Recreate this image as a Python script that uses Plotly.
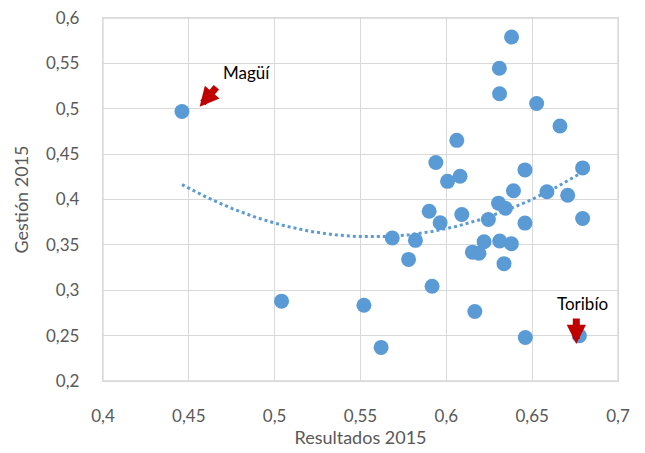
import numpy as np
import plotly.graph_objects as go

resultados = [0.446, 0.504, 0.552, 0.562, 0.5685, 0.578, 0.582, 0.590, 0.5917, 0.5939,
              0.5964, 0.6007, 0.6061, 0.608, 0.609, 0.6152, 0.6166, 0.619, 0.622, 0.6245,
              0.6304, 0.6309, 0.631, 0.6311, 0.6344, 0.6336, 0.638, 0.6379, 0.6391, 0.6458,
              0.6458, 0.646, 0.6526, 0.6586, 0.6662, 0.6707, 0.6775, 0.6794, 0.6794]
gestion = [0.497, 0.288, 0.2835, 0.237, 0.3575, 0.334, 0.355, 0.387, 0.3044, 0.4407,
           0.3744, 0.420, 0.4652, 0.4256, 0.3835, 0.342, 0.2766, 0.3407, 0.3535, 0.378,
           0.396, 0.5447, 0.5165, 0.3542, 0.3904, 0.3293, 0.579, 0.3513, 0.4096, 0.4326,
           0.374, 0.248, 0.5058, 0.4085, 0.481, 0.4047, 0.2498, 0.4348, 0.379]

x_ticks = [0.4, 0.45, 0.5, 0.55, 0.6, 0.65, 0.7]
y_ticks = [0.2, 0.25, 0.3, 0.35, 0.4, 0.45, 0.5, 0.55, 0.6]

labels = ["Magüí", "Toribío"]
label_points = [(0.4563, 0.5022), (0.6757, 0.2407)]
label_text_pos = [(0.4838, 0.5399), (0.6792, 0.2858)]

# polynomial (order 2) trendline fitted to the data
coef = np.polyfit(resultados, gestion, 2)
xt = np.linspace(min(resultados), max(resultados), 200)
yt = np.polyval(coef, xt)

FONT = "Lato"
fig = go.Figure()
fig.add_trace(go.Scatter(x=resultados, y=gestion, mode="markers",
                         marker=dict(size=15, color="#5B9BD5"),
                         hoverinfo="x+y", showlegend=False))
fig.add_trace(go.Scatter(x=xt, y=yt, mode="lines",
                         line=dict(color="#5B9BD5", width=3, dash="dot"),
                         hoverinfo="skip", showlegend=False))

# arrows
fig.add_annotation(x=label_points[0][0], y=label_points[0][1], ax=18, ay=-21,
                   showarrow=True, arrowhead=2, arrowsize=0.55, arrowwidth=7,
                   arrowcolor="#C00000", text="")
fig.add_annotation(x=label_points[1][0], y=label_points[1][1], ax=0, ay=-27,
                   showarrow=True, arrowhead=2, arrowsize=0.55, arrowwidth=7,
                   arrowcolor="#C00000", text="")
# labels
for (tx, ty), lab in zip(label_text_pos, labels):
    fig.add_annotation(x=tx, y=ty, text=lab, showarrow=False,
                       font=dict(family=FONT, size=17, color="#000000"))

# plot-area frame (edge gridlines)
fig.add_shape(type="rect", xref="paper", yref="paper", x0=0, y0=0, x1=1, y1=1,
              line=dict(color="#D9D9D9", width=1.3), layer="below")

axis_common = dict(showgrid=True, gridcolor="#D9D9D9", gridwidth=1.3,
                   showline=True, linecolor="#D9D9D9", linewidth=1.3, mirror=True,
                   zeroline=False, ticks="", ticklabeloverflow="allow",
                   tickfont=dict(family=FONT, size=17, color="#595959"),
                   title_font=dict(family=FONT, size=18, color="#595959"))

fig.update_xaxes(range=[0.4, 0.7], tickvals=x_ticks, ticklabelstandoff=19,
                 title_text="Resultados 2015", title_standoff=3, **axis_common)
fig.update_yaxes(range=[0.2, 0.6], tickvals=y_ticks, ticklabelstandoff=19,
                 title_text="Gestión 2015", title_standoff=12, **axis_common)

fig.update_layout(width=645, height=453, separators=",.",
                  margin=dict(l=102.5, r=26.7, t=17.5, b=72, autoexpand=False),
                  plot_bgcolor="white", paper_bgcolor="white",
                  font=dict(family=FONT))
fig.write_html("out.html", config={"displayModeBar": False},
               post_script="document.body.style.margin='0';document.body.style.overflow='hidden';")
